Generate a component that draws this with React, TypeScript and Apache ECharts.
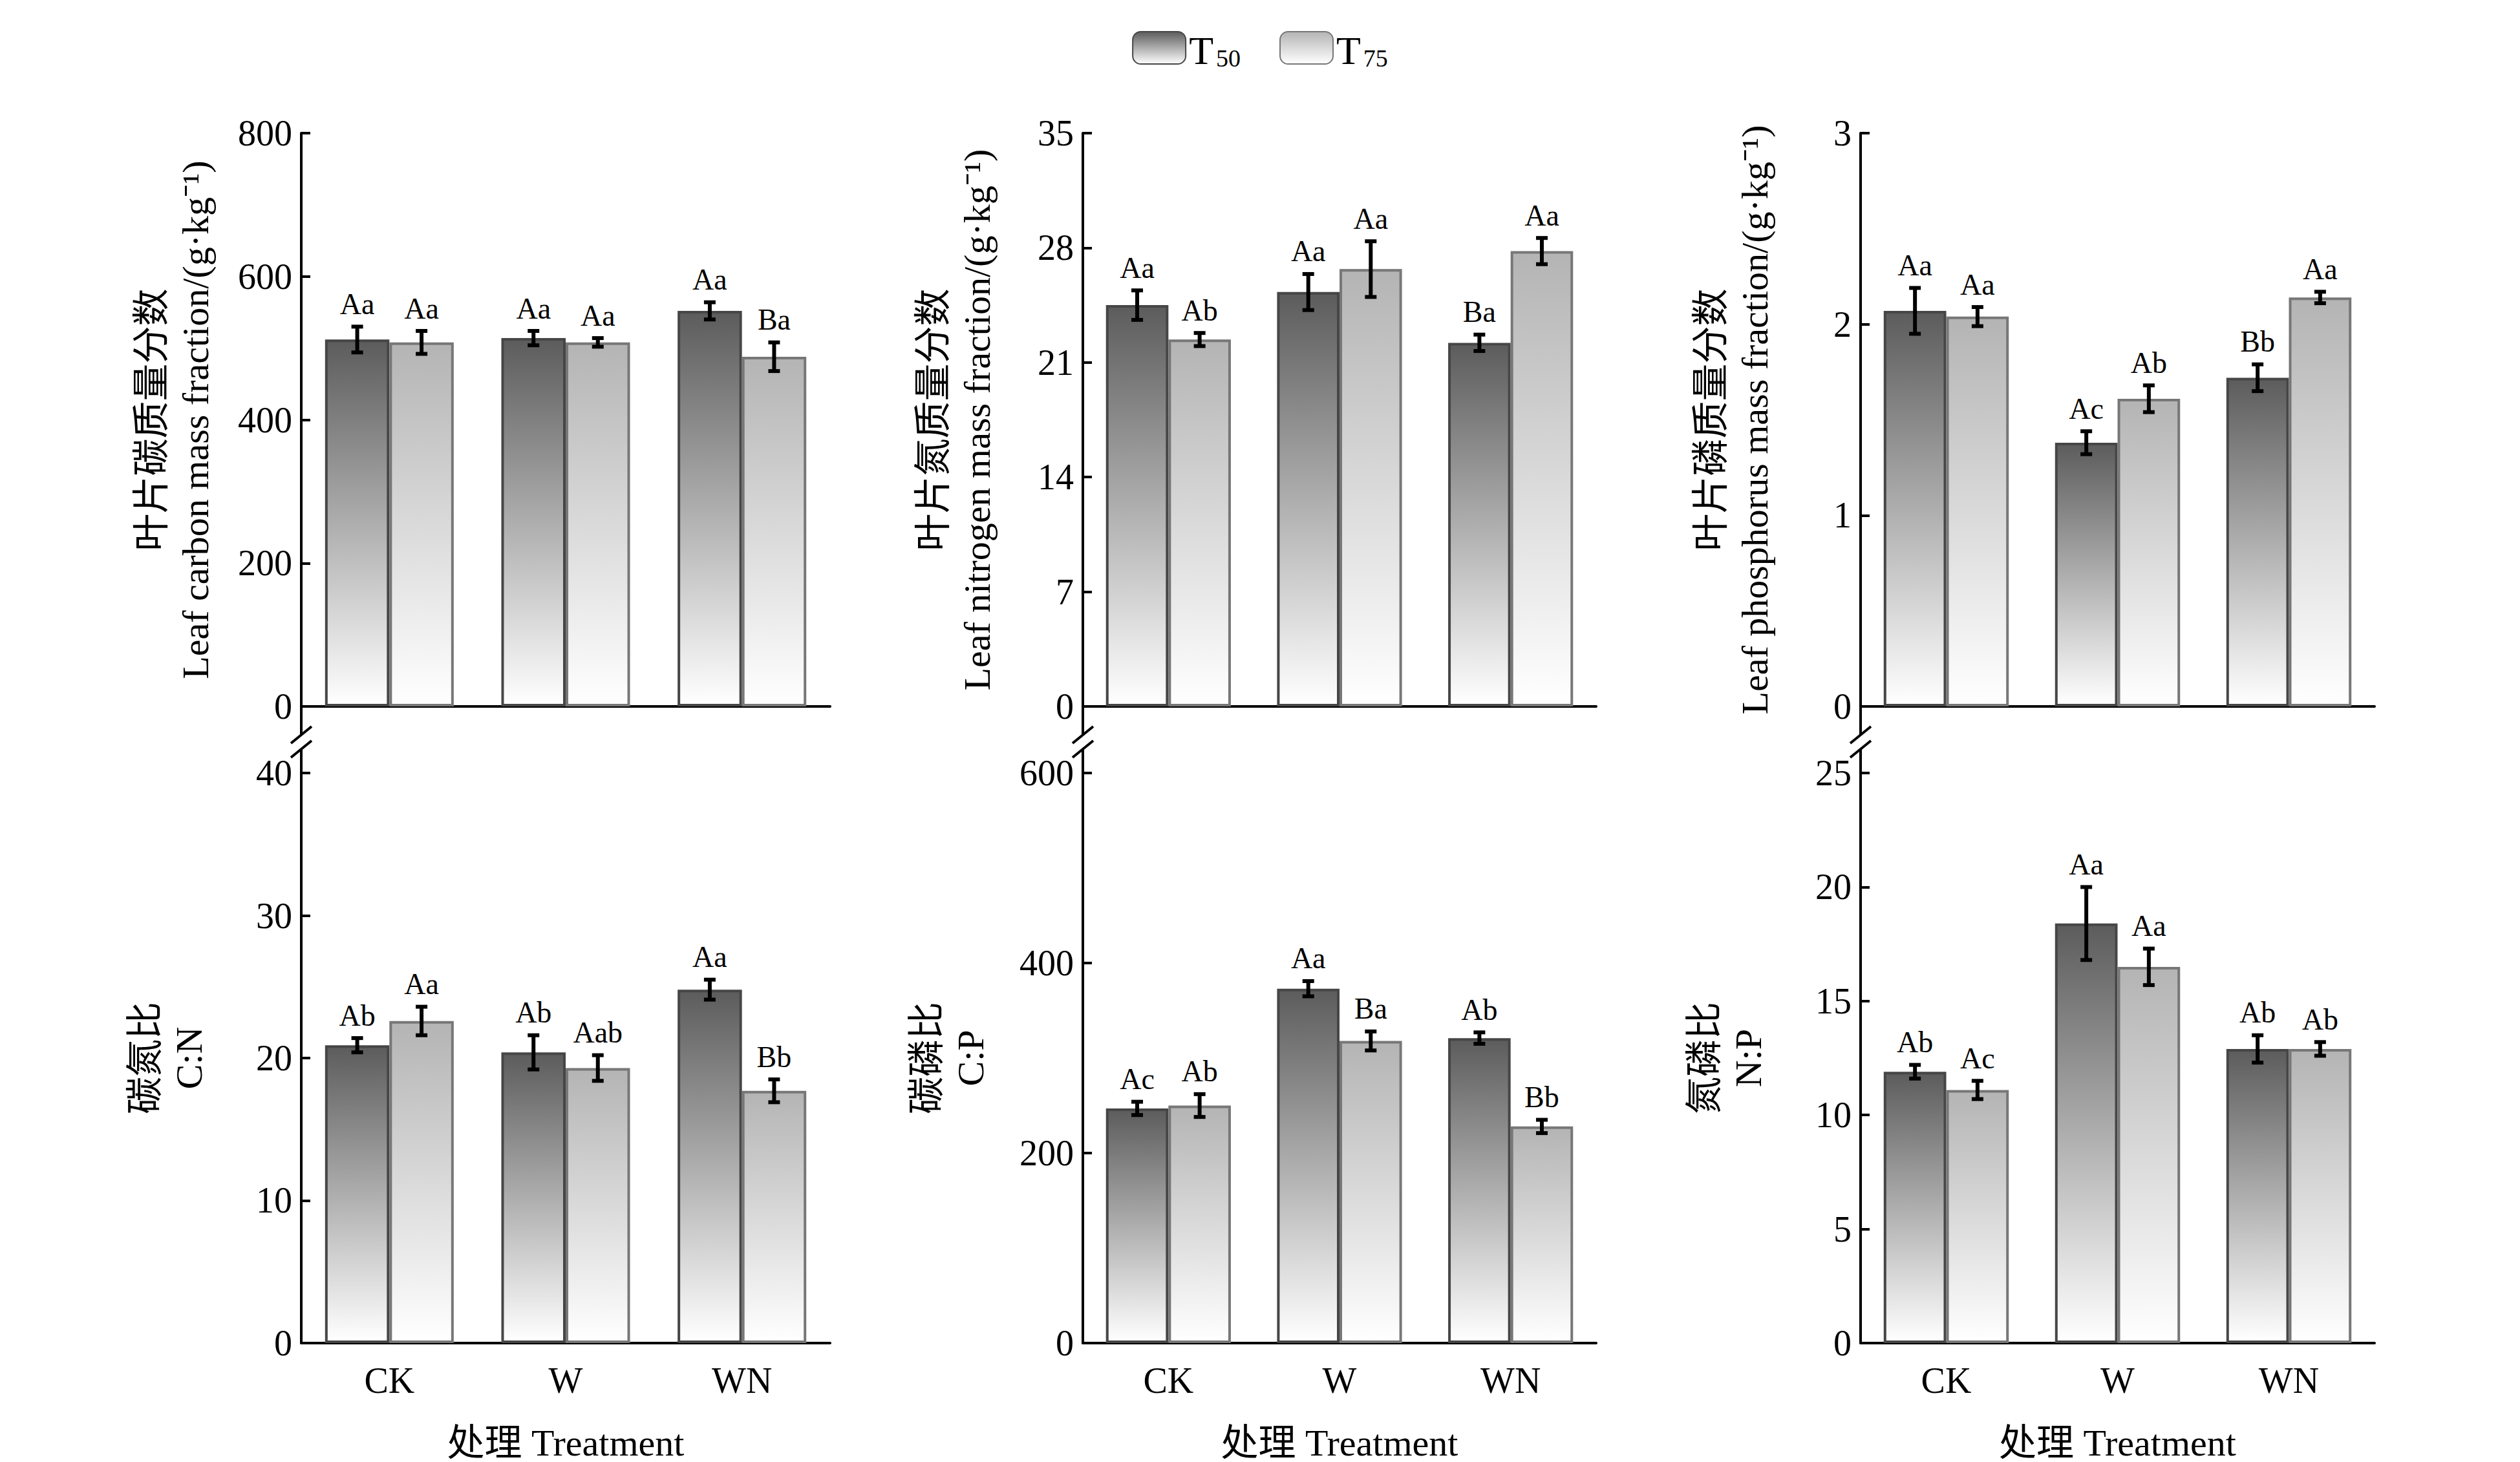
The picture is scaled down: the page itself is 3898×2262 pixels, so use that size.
import { useEffect, useRef } from "react";
import * as echarts from "echarts";

const categories = ["CK", "W", "WN"];
const seriesNames = ["T50", "T75"];

// 每个面板: T50 / T75 的均值、误差和显著性字母
const carbonT50 = [512, 514, 552];
const carbonT50Err = [18, 10, 12];
const carbonT50Sig = ["Aa", "Aa", "Aa"];
const carbonT75 = [508, 508, 488];
const carbonT75Err = [16, 6, 20];
const carbonT75Sig = ["Aa", "Aa", "Ba"];

const nitrogenT50 = [24.5, 25.3, 22.2];
const nitrogenT50Err = [0.9, 1.1, 0.5];
const nitrogenT50Sig = ["Aa", "Aa", "Ba"];
const nitrogenT75 = [22.4, 26.7, 27.8];
const nitrogenT75Err = [0.4, 1.7, 0.8];
const nitrogenT75Sig = ["Ab", "Aa", "Aa"];

const phosT50 = [2.07, 1.38, 1.72];
const phosT50Err = [0.12, 0.06, 0.07];
const phosT50Sig = ["Aa", "Ac", "Bb"];
const phosT75 = [2.04, 1.61, 2.14];
const phosT75Err = [0.05, 0.07, 0.03];
const phosT75Sig = ["Aa", "Ab", "Aa"];

const cnT50 = [20.9, 20.4, 24.8];
const cnT50Err = [0.5, 1.2, 0.7];
const cnT50Sig = ["Ab", "Ab", "Aa"];
const cnT75 = [22.6, 19.3, 17.7];
const cnT75Err = [1.0, 0.9, 0.8];
const cnT75Sig = ["Aa", "Aab", "Bb"];

const cpT50 = [247, 373, 321];
const cpT50Err = [7, 8, 6];
const cpT50Sig = ["Ac", "Aa", "Ab"];
const cpT75 = [250, 318, 228];
const cpT75Err = [12, 10, 7];
const cpT75Sig = ["Ab", "Ba", "Bb"];

const npT50 = [11.9, 18.4, 12.9];
const npT50Err = [0.3, 1.6, 0.6];
const npT50Sig = ["Ab", "Aa", "Ab"];
const npT75 = [11.1, 16.5, 12.9];
const npT75Err = [0.4, 0.8, 0.3];
const npT75Sig = ["Ac", "Aa", "Ab"];

const FONT = "'Liberation Serif', 'Times New Roman', 'Noto Sans CJK SC', serif";
const LEFTS = [466, 1675, 2878];
const WIDTHS = [818, 794, 795];
const TOP_ROW = { top: 206, height: 887 };
const BOT_ROW = { top: 1196, height: 887 };
const GAP = 0.27;

type Panel = {
  col: number;
  row: 0 | 1;
  max: number;
  interval: number;
  name: string;
  t50: number[];
  t50Err: number[];
  t50Sig: string[];
  t75: number[];
  t75Err: number[];
  t75Sig: string[];
};

const panels: Panel[] = [
  { col: 0, row: 0, max: 800, interval: 200, name: "叶片碳质量分数\nLeaf carbon mass fraction/(g·kg⁻¹)", t50: carbonT50, t50Err: carbonT50Err, t50Sig: carbonT50Sig, t75: carbonT75, t75Err: carbonT75Err, t75Sig: carbonT75Sig },
  { col: 1, row: 0, max: 35, interval: 7, name: "叶片氮质量分数\nLeaf nitrogen mass fraction/(g·kg⁻¹)", t50: nitrogenT50, t50Err: nitrogenT50Err, t50Sig: nitrogenT50Sig, t75: nitrogenT75, t75Err: nitrogenT75Err, t75Sig: nitrogenT75Sig },
  { col: 2, row: 0, max: 3, interval: 1, name: "叶片磷质量分数\nLeaf phosphorus mass fraction/(g·kg⁻¹)", t50: phosT50, t50Err: phosT50Err, t50Sig: phosT50Sig, t75: phosT75, t75Err: phosT75Err, t75Sig: phosT75Sig },
  { col: 0, row: 1, max: 40, interval: 10, name: "碳氮比\nC:N", t50: cnT50, t50Err: cnT50Err, t50Sig: cnT50Sig, t75: cnT75, t75Err: cnT75Err, t75Sig: cnT75Sig },
  { col: 1, row: 1, max: 600, interval: 200, name: "碳磷比\nC:P", t50: cpT50, t50Err: cpT50Err, t50Sig: cpT50Sig, t75: cpT75, t75Err: cpT75Err, t75Sig: cpT75Sig },
  { col: 2, row: 1, max: 25, interval: 5, name: "氮磷比\nN:P", t50: npT50, t50Err: npT50Err, t50Sig: npT50Sig, t75: npT75, t75Err: npT75Err, t75Sig: npT75Sig },
];

const grad = (top: string) =>
  new echarts.graphic.LinearGradient(0, 0, 0, 1, [
    { offset: 0, color: top },
    { offset: 1, color: "#ffffff" },
  ]);

export default function App() {
  const ref = useRef<HTMLDivElement>(null);

  useEffect(() => {
    if (!ref.current) return;
    document.body.style.margin = "0";
    document.body.style.overflow = "hidden";
    const chart = echarts.init(ref.current, null, { renderer: "svg" });

    const grids: any[] = [];
    const xAxes: any[] = [];
    const yAxes: any[] = [];
    const series: any[] = [];
    const graphics: any[] = [];

    panels.forEach((p, i) => {
      const rowRect = p.row === 0 ? TOP_ROW : BOT_ROW;
      grids.push({ left: LEFTS[p.col], width: WIDTHS[p.col], top: rowRect.top, height: rowRect.height });
      xAxes.push({
        gridIndex: i,
        type: "category",
        data: categories,
        axisLine: { lineStyle: { color: "#000", width: 4 } },
        axisTick: { show: false },
        axisLabel: { show: p.row === 1, color: "#000", fontFamily: FONT, fontSize: 56, margin: 30 },
        name: p.row === 1 ? "处理 Treatment" : "",
        nameLocation: "middle",
        nameGap: 125,
        nameTextStyle: { color: "#000", fontFamily: FONT, fontSize: 58 },
      });
      yAxes.push({
        gridIndex: i,
        type: "value",
        min: 0,
        max: p.max,
        interval: p.interval,
        splitLine: { show: false },
        axisLine: { show: true, lineStyle: { color: "#000", width: 4 } },
        axisTick: { show: true, inside: true, length: 14, lineStyle: { width: 4 } },
        axisLabel: { color: "#000", fontFamily: FONT, fontSize: 56, margin: 14 },
        name: p.name,
        nameLocation: "middle",
        nameRotate: 90,
        nameGap: p.row === 0 ? 130 : 140,
        nameTextStyle: { color: "#000", fontFamily: FONT, fontSize: 58, lineHeight: 68 },
      });

      const sets = [
        { vals: p.t50, err: p.t50Err, sig: p.t50Sig, top: "#5c5c5c", border: "#464646", side: -1 },
        { vals: p.t75, err: p.t75Err, sig: p.t75Sig, top: "#b4b4b4", border: "#777777", side: 1 },
      ];
      sets.forEach((s, k) => {
        series.push({
          type: "bar",
          name: seriesNames[k],
          xAxisIndex: i,
          yAxisIndex: i,
          data: s.vals,
          barGap: "0%",
          barCategoryGap: GAP * 100 + "%",
          itemStyle: { color: grad(s.top), borderColor: s.border, borderWidth: 4 },
        });
      });
      sets.forEach((s) => {
        series.push({
          type: "custom",
          xAxisIndex: i,
          yAxisIndex: i,
          z: 10,
          data: s.vals.map((v, c) => [c, v, s.err[c], s.sig[c]]),
          renderItem: (params: any, api: any) => {
            const c = api.value(0);
            const v = api.value(1);
            const e = api.value(2);
            const band = api.size([1, 0])[0];
            const bw = (band * (1 - GAP)) / 2;
            const cx = api.coord([c, v])[0] + (s.side * bw) / 2;
            const yHi = api.coord([c, v + e])[1];
            const yLo = api.coord([c, v - e])[1];
            const cap = 9;
            const ls = { stroke: "#000", lineWidth: 6 };
            return {
              type: "group",
              children: [
                { type: "line", shape: { x1: cx, y1: yHi, x2: cx, y2: yLo }, style: ls },
                { type: "line", shape: { x1: cx - cap, y1: yHi, x2: cx + cap, y2: yHi }, style: ls },
                { type: "line", shape: { x1: cx - cap, y1: yLo, x2: cx + cap, y2: yLo }, style: ls },
                {
                  type: "text",
                  x: cx,
                  y: yHi - 12,
                  style: {
                    text: String(s.sig[c]),
                    fontFamily: FONT,
                    fontSize: 46,
                    fill: "#000",
                    align: "center",
                    verticalAlign: "bottom",
                  },
                },
              ],
            };
          },
        });
      });
    });

    // 坐标轴断裂符号
    LEFTS.forEach((x) => {
      const ls = { stroke: "#000", lineWidth: 4 };
      graphics.push(
        { type: "line", shape: { x1: x, y1: 1093, x2: x, y2: 1138 }, style: ls },
        { type: "line", shape: { x1: x, y1: 1160, x2: x, y2: 1196 }, style: ls },
        { type: "line", shape: { x1: x - 16, y1: 1150, x2: x + 16, y2: 1124 }, style: ls },
        { type: "line", shape: { x1: x - 16, y1: 1172, x2: x + 16, y2: 1146 }, style: ls },
      );
    });

    chart.setOption({
      animation: false,
      backgroundColor: "#fff",
      legend: {
        data: seriesNames,
        top: 42,
        left: "center",
        itemWidth: 82,
        itemHeight: 50,
        itemGap: 60,
        formatter: (n: string) => `{t|T}{s|${n.slice(1)}}`,
        textStyle: {
          color: "#000",
          fontFamily: FONT,
          rich: {
            t: { fontSize: 62, fontFamily: FONT, verticalAlign: "bottom", lineHeight: 70 },
            s: { fontSize: 38, fontFamily: FONT, verticalAlign: "bottom", lineHeight: 40, padding: [22, 0, 0, 4] },
          },
        },
      },
      grid: grids,
      xAxis: xAxes,
      yAxis: yAxes,
      series,
      graphic: graphics,
    });

    return () => chart.dispose();
  }, []);

  return <div ref={ref} style={{ width: 3898, height: 2262 }} />;
}
